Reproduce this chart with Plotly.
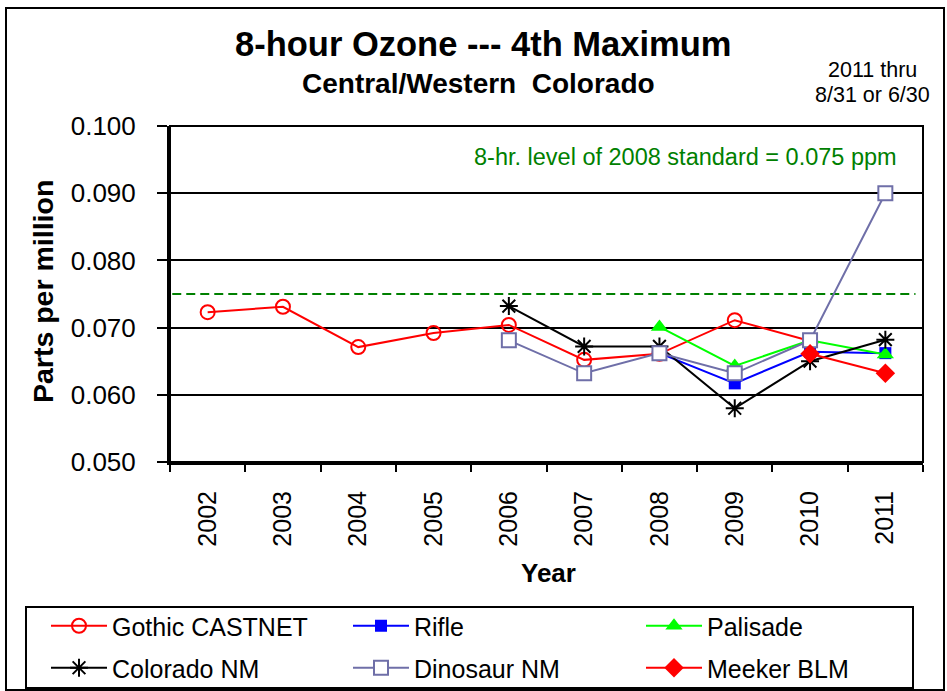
import plotly.graph_objects as go

# ---------------- data ----------------
years = ["2002", "2003", "2004", "2005", "2006", "2007", "2008", "2009", "2010", "2011"]

gothic_castnet = [0.0723, 0.0731, 0.0671, 0.0692, 0.0704, 0.0652, 0.0661, 0.0711, 0.0680, None]
rifle          = [None, None, None, None, None, None, 0.0662, 0.0617, 0.0664, 0.0662]
palisade       = [None, None, None, None, None, None, 0.0701, 0.0643, 0.0681, 0.0660]
colorado_nm    = [None, None, None, None, 0.0732, 0.0672, 0.0672, 0.0580, 0.0650, 0.0682]
dinosaur_nm    = [None, None, None, None, 0.0681, 0.0632, 0.0662, 0.0632, 0.0681, 0.0900]
meeker_blm     = [None, None, None, None, None, None, None, None, 0.0661, 0.0632]

standard_level = 0.075
y_ticks = [0.050, 0.060, 0.070, 0.080, 0.090, 0.100]

# ---------------- layout geometry (pixels) ----------------
W_FIG, H_FIG = 947, 691
L, R, T, B = 170, 923, 126, 462
PW, PH = R - L, B - T


def px(x):
    return (x - L) / PW


def py(y):
    return (B - y) / PH


FONT = "Liberation Sans, Arial, sans-serif"

fig = go.Figure()

series = [
    ("Gothic CASTNET", gothic_castnet, "#FF0000", dict(symbol="circle-open", size=14, color="#FF0000", line=dict(width=2, color="#FF0000")), "legend", 231),
    ("Rifle", rifle, "#0000FF", dict(symbol="square", size=12, color="#0000FF", line=dict(width=0)), "legend", 222),
    ("Palisade", palisade, "#00FF00", dict(symbol="triangle-up", size=15, color="#00FF00", line=dict(width=0)), "legend", 222),
    ("Colorado NM", colorado_nm, "#000000", dict(symbol="asterisk-open", size=15, color="#000000", line=dict(width=2, color="#000000")), "legend2", 231),
    ("Dinosaur NM", dinosaur_nm, "#6F6FA8", dict(symbol="square", size=14, color="#FFFFFF", line=dict(width=2, color="#6F6FA8")), "legend2", 222),
    ("Meeker BLM", meeker_blm, "#FF0000", dict(symbol="diamond", size=15, color="#FF0000", line=dict(width=0)), "legend2", 222),
]

for name, vals, color, marker, leg, lw in series:
    fig.add_trace(go.Scatter(
        x=years, y=vals, name=name, mode="lines+markers",
        line=dict(color=color, width=2), marker=marker,
        legend=leg, legendwidth=lw, connectgaps=False,
    ))

shapes = [
    # outer chart border
    dict(type="rect", xref="paper", yref="paper", x0=px(6), x1=px(944), y0=py(8), y1=py(690),
         line=dict(color="#000000", width=2), layer="below"),
    # plot area border
    dict(type="rect", xref="paper", yref="paper", x0=0, x1=1, y0=0, y1=1,
         line=dict(color="#000000", width=2), layer="below"),
    # legend box
    dict(type="rect", xref="paper", yref="paper", x0=px(26), x1=px(913), y0=py(607), y1=py(688),
         line=dict(color="#000000", width=2), layer="below"),
    # standard line
    dict(type="line", xref="paper", yref="y", x0=0.003, x1=0.99, y0=standard_level, y1=standard_level,
         line=dict(color="#008000", width=2, dash="9px,5px"), layer="below"),
]

annotations = [
    dict(text="<b>8-hour Ozone --- 4th Maximum</b>", x=px(482.5), y=py(44), xref="paper", yref="paper",
         showarrow=False, xanchor="center", yanchor="middle", font=dict(size=34.5, color="#000000", family=FONT)),
    dict(text="<b>Central/Western\u00a0 Colorado</b>", x=px(478), y=py(83), xref="paper", yref="paper",
         showarrow=False, xanchor="center", yanchor="middle", font=dict(size=28, color="#000000", family=FONT)),
    dict(text="2011 thru", x=px(872), y=py(70), xref="paper", yref="paper",
         showarrow=False, xanchor="center", yanchor="middle", font=dict(size=21.5, color="#000000", family=FONT)),
    dict(text="8/31 or 6/30", x=px(872), y=py(95), xref="paper", yref="paper",
         showarrow=False, xanchor="center", yanchor="middle", font=dict(size=21.5, color="#000000", family=FONT)),
    dict(text="8-hr. level of 2008 standard = 0.075 ppm", x=px(685.5), y=py(157), xref="paper", yref="paper",
         showarrow=False, xanchor="center", yanchor="middle", font=dict(size=23.5, color="#008000", family=FONT)),
    dict(text="<b>Parts per million</b>", x=px(43), y=py(292), xref="paper", yref="paper", textangle=-90,
         showarrow=False, xanchor="center", yanchor="middle", font=dict(size=28.5, color="#000000", family=FONT)),
    dict(text="<b>Year</b>", x=px(548), y=py(573), xref="paper", yref="paper",
         showarrow=False, xanchor="center", yanchor="middle", font=dict(size=26, color="#000000", family=FONT)),
]

legend_common = dict(
    orientation="h", xanchor="left", yanchor="top", x=px(46),
    font=dict(size=25, color="#000000", family=FONT),
    bgcolor="rgba(0,0,0,0)", borderwidth=0, itemwidth=56,
    entrywidthmode="pixels",
)

fig.update_layout(
    width=W_FIG, height=H_FIG,
    margin=dict(l=L, r=W_FIG - R, t=T, b=H_FIG - B, autoexpand=False),
    paper_bgcolor="#FFFFFF", plot_bgcolor="#FFFFFF",
    font=dict(family=FONT, color="#000000"),
    showlegend=True,
    legend=dict(y=py(603), **legend_common),
    legend2=dict(y=py(645), **legend_common),
    shapes=shapes, annotations=annotations,
    xaxis=dict(
        type="category", categoryorder="array", categoryarray=years,
        range=[-0.5, len(years) - 0.5],
        tickson="boundaries", ticks="outside", ticklen=7, tickwidth=2, tickcolor="#000000",
        tickangle=-90, tickfont=dict(size=25, color="#000000", family=FONT),
        ticklabelstandoff=16,
        showline=True, linecolor="#000000", linewidth=3,
        showgrid=False, zeroline=False, fixedrange=True,
    ),
    yaxis=dict(
        range=[0.05, 0.10], tickvals=y_ticks, tickformat=".3f",
        ticks="outside", ticklen=10, tickwidth=2, tickcolor="#000000",
        tickfont=dict(size=26, color="#000000", family=FONT),
        ticklabelstandoff=16,
        showline=True, linecolor="#000000", linewidth=3,
        showgrid=True, gridcolor="#000000", gridwidth=2,
        zeroline=False, fixedrange=True,
    ),
)

fig.write_html(
    "out.html",
    config={"displayModeBar": False},
    post_script="document.body.style.margin='0';document.body.style.overflow='hidden';",
)
